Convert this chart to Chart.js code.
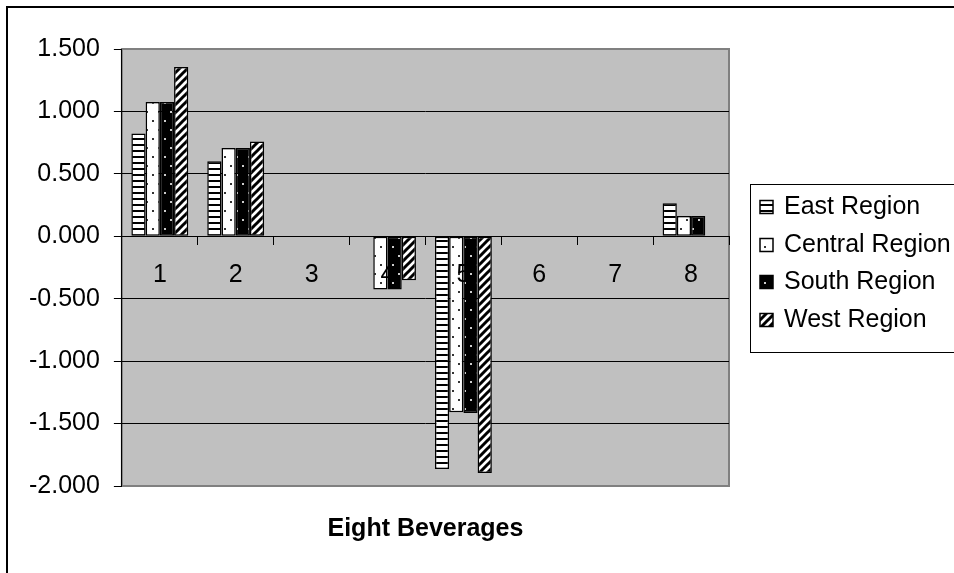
<!DOCTYPE html>
<html>
<head>
<meta charset="utf-8">
<script src="https://cdn.jsdelivr.net/npm/chart.js@4.4.0/dist/chart.umd.min.js"></script>
<style>
  html, body { margin: 0; padding: 0; background: #fff; }
  #wrap { width: 954px; height: 573px; position: relative; }
</style>
</head>
<body>
<div id="wrap"><canvas id="chart"></canvas></div>
<script>
// ---- data ----
const beverages     = ['1', '2', '3', '4', '5', '6', '7', '8'];
const eastRegion    = [0.824, 0.600, 0, 0,      -1.864, 0, 0, 0.264];
const centralRegion = [1.075, 0.707, 0, -0.427, -1.410, 0, 0, 0.162];
const southRegion   = [1.075, 0.707, 0, -0.427, -1.416, 0, 0, 0.162];
const westRegion    = [1.355, 0.760, 0, -0.352, -1.896, 0, 0, 0];
const seriesNames   = ['East Region', 'Central Region', 'South Region', 'West Region'];
const axisTitle     = 'Eight Beverages';
const yMin = -2, yMax = 1.5, yStep = 0.5;

const FONT = '"Liberation Sans", Arial, sans-serif';

/* ---- fill patterns (Excel-style hatches) ---- */
function makePattern(kind) {
  const c = document.createElement('canvas');
  const g = c.getContext('2d');
  if (kind === 'hstripe') {
    c.width = 6; c.height = 6;
    g.fillStyle = '#fff'; g.fillRect(0, 0, 6, 6);
    g.fillStyle = '#000'; g.fillRect(0, 0, 6, 2);
  } else if (kind === 'dots' || kind === 'darkdots') {
    c.width = 12; c.height = 18;
    g.fillStyle = kind === 'dots' ? '#fff' : '#000';
    g.fillRect(0, 0, 12, 18);
    g.fillStyle = kind === 'dots' ? '#333' : '#ccc';
    g.fillRect(2, 3, 2, 2);
    g.fillRect(8, 12, 2, 2);
  } else {
    c.width = 8; c.height = 8;
    g.fillStyle = '#fff'; g.fillRect(0, 0, 8, 8);
    g.strokeStyle = '#000'; g.lineWidth = 3;
    g.beginPath();
    g.moveTo(-2, 10); g.lineTo(10, -2);
    g.moveTo(-2, 2);  g.lineTo(2, -2);
    g.moveTo(6, 10);  g.lineTo(10, 6);
    g.stroke();
  }
  return g.createPattern(c, 'repeat');
}

const fills = [makePattern('hstripe'), makePattern('dots'), makePattern('darkdots'), makePattern('diag')];
const values = [eastRegion, centralRegion, southRegion, westRegion];

/* ---- plot background, outer frame ---- */
const frame = {
  id: 'frame',
  beforeDraw(chart) {
    const { ctx, chartArea: a, width, height } = chart;
    ctx.save();
    ctx.fillStyle = '#fff';
    ctx.fillRect(0, 0, width, height);
    ctx.strokeStyle = '#000';
    ctx.lineWidth = 2;
    ctx.beginPath();
    ctx.moveTo(7, height); ctx.lineTo(7, 7); ctx.lineTo(width, 7);
    ctx.stroke();
    ctx.fillStyle = '#C0C0C0';
    ctx.fillRect(a.left, a.top, a.right - a.left, a.bottom - a.top);
    ctx.strokeStyle = '#808080';
    ctx.lineWidth = 2;
    ctx.strokeRect(a.left, a.top, a.right - a.left, a.bottom - a.top);
    ctx.restore();
  }
};

/* ---- boxed legend to the right of the plot ---- */
const boxLegend = {
  id: 'boxLegend',
  afterDraw(chart) {
    const { ctx, chartArea: a } = chart;
    const left = a.right + 21;
    const mid  = (a.top + a.bottom) / 2;
    const rowH = 38;
    ctx.save();
    ctx.strokeStyle = '#000';
    ctx.lineWidth = 1;
    ctx.strokeRect(Math.round(left) + 0.5, Math.round(mid - 84) + 0.5, 240, 168);
    ctx.font = '25px ' + FONT;
    ctx.textBaseline = 'alphabetic';
    chart.data.datasets.forEach((ds, i) => {
      const base = mid - 84 + 30 + i * rowH - (i > 1 ? 1 : 0);
      ctx.fillStyle = ds.backgroundColor;
      ctx.fillRect(left + 10, base - 13, 13, 13);
      ctx.lineWidth = 1.5;
      ctx.strokeRect(left + 10, base - 13, 13, 13);
      ctx.fillStyle = '#000';
      ctx.fillText(ds.label, left + 34, base);
    });
    ctx.restore();
  }
};

new Chart(document.getElementById('chart'), {
  type: 'bar',
  data: {
    labels: beverages,
    datasets: seriesNames.map((name, i) => ({
      label: name,
      data: values[i],
      backgroundColor: fills[i],
      borderColor: '#000',
      borderWidth: 1.5,
      borderSkipped: false,
      categoryPercentage: 0.75,
      barPercentage: 1,
    })),
  },
  plugins: [frame, boxLegend],
  options: {
    responsive: true,
    maintainAspectRatio: false,
    animation: false,
    layout: { padding: { left: 15, top: 49, right: 225, bottom: 0 } },
    plugins: {
      legend: { display: false },
      tooltip: { enabled: false },
      title: {
        display: true,
        text: axisTitle,
        position: 'bottom',
        fullSize: false,
        color: '#000',
        font: { family: FONT, size: 25, weight: 'bold' },
        padding: { top: 28, bottom: 29 },
      },
    },
    scales: {
      x: {
        position: { y: 0 },
        afterFit: s => { s.height = 0; },
        grid: { drawOnChartArea: false, drawTicks: true, tickLength: 8, tickColor: '#000', offset: true },
        border: { display: true, color: '#000', width: 1 },
        ticks: { z: 1, color: '#000', padding: 16, font: { family: FONT, size: 25 }, maxRotation: 0 },
      },
      y: {
        min: yMin,
        max: yMax,
        ticks: {
          stepSize: yStep,
          color: '#000',
          padding: 14,
          font: { family: FONT, size: 25 },
          callback: v => v.toFixed(3),
        },
        grid: {
          color: ctx => (ctx.tick && (ctx.tick.value === yMin || ctx.tick.value === yMax)) ? 'rgba(0,0,0,0)' : '#000',
          tickColor: '#000',
          tickLength: 8,
          lineWidth: 1,
        },
        border: { display: true, color: '#000', width: 1 },
      },
    },
  },
});
</script>
</body>
</html>
